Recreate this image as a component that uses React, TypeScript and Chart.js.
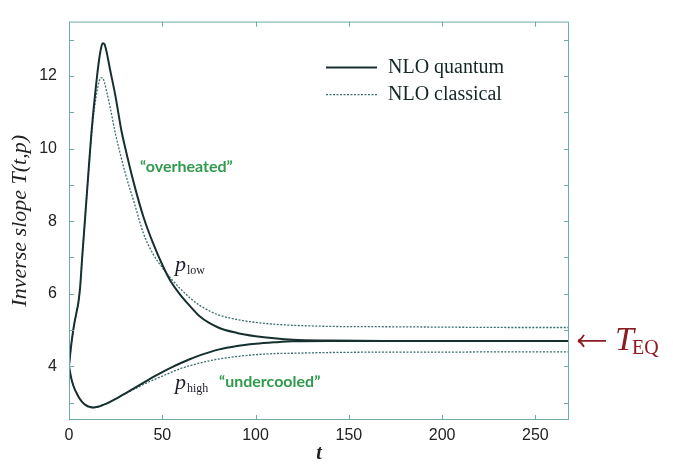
import { useEffect, useRef } from "react";
import { Chart, registerables } from "chart.js";

Chart.register(...registerables);

// time axis samples
const times = [0, 1, 2, 3, 4, 5, 6, 7, 8, 9, 10, 11, 12, 13, 14, 15, 16, 17, 18, 19, 20, 22, 25, 28, 30, 35, 40, 45, 50, 55, 60, 65, 70, 80, 90, 100, 110, 120, 140, 170, 200, 235, 268];

const quantumLow = [4.0, 4.5, 4.9, 5.22, 5.48, 5.75, 6.2, 6.95, 7.65, 8.35, 9.05, 9.75, 10.42, 11.0, 11.5, 11.98, 12.4, 12.72, 12.9, 12.88, 12.7, 12.18, 11.42, 10.52, 10.05, 9.0, 8.1, 7.4, 6.8, 6.3, 5.95, 5.65, 5.38, 5.07, 4.92, 4.83, 4.77, 4.73, 4.71, 4.7, 4.7, 4.7, 4.7];
const classicalLow = [4.0, 4.5, 4.9, 5.22, 5.48, 5.75, 6.2, 6.95, 7.65, 8.35, 9.05, 9.7, 10.32, 10.85, 11.25, 11.58, 11.82, 11.95, 11.95, 11.82, 11.62, 11.15, 10.38, 9.75, 9.35, 8.5, 7.65, 7.1, 6.72, 6.4, 6.12, 5.88, 5.68, 5.42, 5.29, 5.21, 5.16, 5.13, 5.1, 5.09, 5.08, 5.07, 5.07];
const quantumHigh = [4.0, 3.72, 3.52, 3.38, 3.27, 3.17, 3.09, 3.02, 2.97, 2.93, 2.9, 2.885, 2.87, 2.865, 2.87, 2.88, 2.89, 2.91, 2.93, 2.95, 2.97, 3.02, 3.1, 3.19, 3.25, 3.4, 3.55, 3.7, 3.84, 3.97, 4.09, 4.2, 4.3, 4.46, 4.56, 4.62, 4.66, 4.69, 4.7, 4.7, 4.7, 4.7, 4.7];
const classicalHigh = [4.0, 3.72, 3.52, 3.38, 3.27, 3.17, 3.09, 3.02, 2.97, 2.93, 2.9, 2.885, 2.87, 2.865, 2.87, 2.88, 2.89, 2.91, 2.93, 2.95, 2.97, 3.02, 3.1, 3.185, 3.24, 3.37, 3.5, 3.62, 3.73, 3.84, 3.94, 4.02, 4.09, 4.2, 4.27, 4.32, 4.35, 4.36, 4.38, 4.39, 4.39, 4.4, 4.4];

const seriesNames = ["NLO quantum", "NLO classical"];
const xTickValues = [0, 50, 100, 150, 200, 250];
const yLabelValues = [4, 6, 8, 10, 12];

// annotation anchors in data coordinates
const overheatedAt = { t: 38.1, v: 9.49 };
const undercooledAt = { t: 80.4, v: 3.58 };
const pLowAt = { t: 56.8, v: 6.62 };
const pHighAt = { t: 56.8, v: 3.37 };
const tEqValue = 4.7;

const SOLID = "#163030";
const DOTTED = "#3a6e6e";
const FRAME = "#6fa9a9";
const TEXT = "#222";
const GREEN = "#2f9a4c";
const RED = "#8a1c22";

const pts = (vals: number[]) => times.map((t, i) => ({ x: t, y: vals[i] }));

const decorPlugin = {
  id: "decor",
  afterDraw(chart: any) {
    const { ctx, chartArea: a, scales } = chart;
    const xs = scales.x;
    const ys = scales.y;
    ctx.save();
    // frame
    ctx.strokeStyle = FRAME;
    ctx.lineWidth = 1;
    ctx.strokeRect(a.left + 0.5, a.top + 0.5, a.right - a.left - 1, a.bottom - a.top - 1);
    // inward ticks
    ctx.beginPath();
    ys.ticks.forEach((tk: any) => {
      const py = Math.round(ys.getPixelForValue(tk.value)) + 0.5;
      ctx.moveTo(a.left, py);
      ctx.lineTo(a.left + 5, py);
      ctx.moveTo(a.right, py);
      ctx.lineTo(a.right - 5, py);
    });
    xTickValues.forEach((v) => {
      const px = Math.round(xs.getPixelForValue(v)) + 0.5;
      ctx.moveTo(px, a.bottom);
      ctx.lineTo(px, a.bottom - 5);
      ctx.moveTo(px, a.top);
      ctx.lineTo(px, a.top + 5);
    });
    ctx.stroke();

    // legend
    const lx0 = a.left + 257;
    const lx1 = a.left + 308;
    ctx.strokeStyle = SOLID;
    ctx.lineWidth = 2;
    ctx.setLineDash([]);
    ctx.beginPath();
    ctx.moveTo(lx0, a.top + 46);
    ctx.lineTo(lx1, a.top + 46);
    ctx.stroke();
    ctx.strokeStyle = DOTTED;
    ctx.lineWidth = 1.3;
    ctx.setLineDash([2, 1.5]);
    ctx.beginPath();
    ctx.moveTo(lx0, a.top + 73);
    ctx.lineTo(lx1, a.top + 73);
    ctx.stroke();
    ctx.setLineDash([]);
    ctx.fillStyle = "#142626";
    ctx.font = '20px "Liberation Serif"';
    ctx.textAlign = "left";
    ctx.textBaseline = "alphabetic";
    ctx.fillText(seriesNames[0], a.left + 319, a.top + 51.5);
    ctx.fillText(seriesNames[1], a.left + 319, a.top + 78);

    // green annotations
    ctx.fillStyle = GREEN;
    ctx.font = 'bold 16px "Lato"';
    ctx.textBaseline = "middle";
    ctx.fillText("\u201Coverheated\u201D", xs.getPixelForValue(overheatedAt.t), ys.getPixelForValue(overheatedAt.v));
    ctx.fillText("\u201Cundercooled\u201D", xs.getPixelForValue(undercooledAt.t), ys.getPixelForValue(undercooledAt.v));

    // p labels
    const drawP = (at: { t: number; v: number }, sub: string) => {
      const px = xs.getPixelForValue(at.t);
      const py = ys.getPixelForValue(at.v);
      ctx.fillStyle = "#1c1c2c";
      ctx.textBaseline = "alphabetic";
      ctx.font = 'italic 22px "Liberation Serif"';
      ctx.fillText("p", px, py);
      const w = ctx.measureText("p").width;
      ctx.font = '12px "Liberation Serif"';
      ctx.fillText(sub, px + w + 1, py + 3);
    };
    drawP(pLowAt, "low");
    drawP(pHighAt, "high");

    // T_EQ arrow
    const ay = ys.getPixelForValue(tEqValue);
    ctx.strokeStyle = RED;
    ctx.fillStyle = RED;
    ctx.lineWidth = 1.8;
    ctx.beginPath();
    ctx.moveTo(a.right + 9, ay);
    ctx.lineTo(a.right + 37, ay);
    ctx.moveTo(a.right + 9, ay);
    ctx.quadraticCurveTo(a.right + 13, ay - 2, a.right + 15, ay - 6);
    ctx.moveTo(a.right + 9, ay);
    ctx.quadraticCurveTo(a.right + 13, ay + 2, a.right + 15, ay + 6);
    ctx.stroke();
    ctx.textBaseline = "alphabetic";
    ctx.font = 'italic 34px "Liberation Serif"';
    ctx.fillText("T", a.right + 46, ay + 9);
    const tw = ctx.measureText("T").width;
    ctx.font = '20px "Liberation Serif"';
    ctx.fillText("EQ", a.right + 44 + tw, ay + 13);
    ctx.restore();
  },
};

export default function App() {
  const ref = useRef<HTMLCanvasElement | null>(null);
  useEffect(() => {
    if (!ref.current) return;
    const common = { pointRadius: 0, cubicInterpolationMode: "monotone", fill: false };
    const chart = new Chart(ref.current, {
      type: "line",
      data: {
        datasets: [
          { label: seriesNames[0], data: pts(quantumLow), borderColor: SOLID, borderWidth: 2, ...common },
          { label: seriesNames[0] + " high", data: pts(quantumHigh), borderColor: SOLID, borderWidth: 2, ...common },
          { label: seriesNames[1], data: pts(classicalLow), borderColor: DOTTED, borderWidth: 1.3, borderDash: [2, 1.5], ...common },
          { label: seriesNames[1] + " high", data: pts(classicalHigh), borderColor: DOTTED, borderWidth: 1.3, borderDash: [2, 1.5], ...common },
        ],
      },
      options: {
        responsive: true,
        maintainAspectRatio: false,
        animation: false,
        layout: { padding: { left: 0, right: 104, top: 7, bottom: 0 } },
        plugins: { legend: { display: false }, tooltip: { enabled: false } },
        scales: {
          x: {
            type: "linear",
            min: 0,
            max: 268,
            afterBuildTicks: (s: any) => {
              s.ticks = xTickValues.map((v) => ({ value: v }));
            },
            afterFit: (s: any) => {
              s.height = 46;
            },
            ticks: { color: TEXT, font: { family: "Liberation Sans", size: 16 }, padding: 6, maxRotation: 0 },
            grid: { display: false, drawTicks: false },
            border: { display: false },
            title: { display: true, text: "t", color: TEXT, font: { family: "Liberation Serif", size: 20, style: "italic", weight: "bold" }, padding: { top: 0, bottom: 0 } },
          },
          y: {
            type: "linear",
            min: 2.52,
            max: 13.5,
            afterFit: (s: any) => {
              s.width = 69;
            },
            ticks: {
              stepSize: 1,
              includeBounds: false,
              maxTicksLimit: 20,
              color: TEXT,
              font: { family: "Liberation Sans", size: 16 },
              padding: 12,
              callback: (v: any) => (yLabelValues.includes(Number(v)) ? String(v) : ""),
            },
            grid: { display: false, drawTicks: false },
            border: { display: false },
            title: { display: true, text: "Inverse slope T(t,p)", color: TEXT, font: { family: "Liberation Serif", size: 22, style: "italic" }, padding: { top: 7, bottom: 0 } },
          },
        },
      },
      plugins: [decorPlugin],
    } as any);
    return () => chart.destroy();
  }, []);
  return (
    <div style={{ position: "absolute", left: 0, top: 0, width: 673, height: 466, background: "#fff" }}>
      <canvas ref={ref} />
    </div>
  );
}
